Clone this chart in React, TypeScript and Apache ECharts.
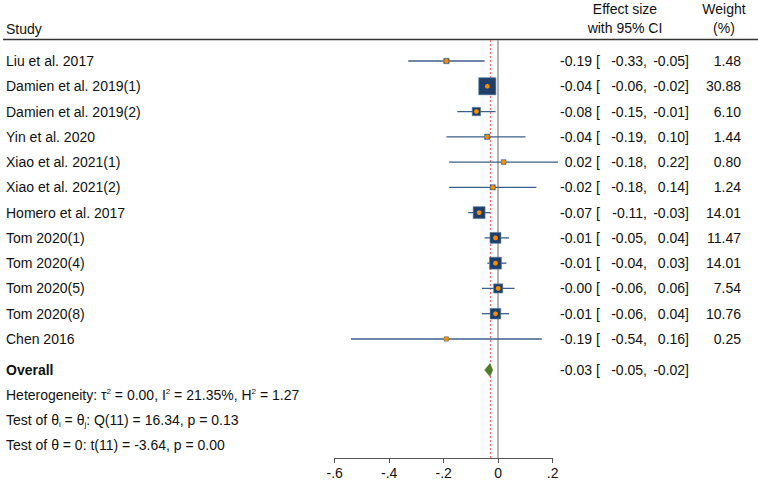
import React, { useEffect, useRef } from "react";
import * as echarts from "echarts";

const studies = [
  "Liu et al. 2017",
  "Damien et al. 2019(1)",
  "Damien et al. 2019(2)",
  "Yin et al. 2020",
  "Xiao et al. 2021(1)",
  "Xiao et al. 2021(2)",
  "Homero et al. 2017",
  "Tom 2020(1)",
  "Tom 2020(4)",
  "Tom 2020(5)",
  "Tom 2020(8)",
  "Chen 2016",
];
const estimates = [-0.19, -0.04, -0.08, -0.04, 0.02, -0.02, -0.07, -0.01, -0.01, -0.0, -0.01, -0.19];
const lowerCI = [-0.33, -0.06, -0.15, -0.19, -0.18, -0.18, -0.11, -0.05, -0.04, -0.06, -0.06, -0.54];
const upperCI = [-0.05, -0.02, -0.01, 0.1, 0.22, 0.14, -0.03, 0.04, 0.03, 0.06, 0.04, 0.16];
const weights = [1.48, 30.88, 6.1, 1.44, 0.8, 1.24, 14.01, 11.47, 14.01, 7.54, 10.76, 0.25];

const overallLabel = "Overall";
const overallEstimate = -0.03;
const overallLower = -0.05;
const overallUpper = -0.02;
const overallRow = 12.23;

const xTicks = [-0.6, -0.4, -0.2, 0, 0.2];
const xTickLabels = ["-.6", "-.4", "-.2", "0", ".2"];

const FONT = "'Liberation Sans', Arial, sans-serif";
const TXT = "#111";

const fmt = (v: number) =>
  (v < 0 || Object.is(v, -0) ? "-" : "") + Math.abs(v).toFixed(2);

function rowTexts(name: string, e: number, lo: number, hi: number, y: number, w: number | null, bold: boolean) {
  const base = { fontSize: 14, fontFamily: FONT, fill: TXT, verticalAlign: "middle" };
  const items: any[] = [
    { type: "text", style: { ...base, text: name, x: 6, y, align: "left", fontWeight: bold ? "bold" : "normal" } },
    { type: "text", style: { ...base, text: fmt(e), x: 592, y, align: "right" } },
    { type: "text", style: { ...base, text: "[", x: 596, y, align: "left" } },
    { type: "text", style: { ...base, text: fmt(lo) + ",", x: 647, y, align: "right" } },
    { type: "text", style: { ...base, text: fmt(hi) + "]", x: 689, y, align: "right" } },
  ];
  if (w !== null) {
    items.push({ type: "text", style: { ...base, text: w.toFixed(2), x: 741, y, align: "right" } });
  }
  return items;
}

export default function App() {
  const ref = useRef<HTMLDivElement>(null);
  useEffect(() => {
    if (!ref.current) return;
    const chart = echarts.init(ref.current, undefined, { renderer: "svg" });
    const studyData = studies.map((_, i) => [i, estimates[i], lowerCI[i], upperCI[i], weights[i]]);

    const footStyle = { fontSize: 14, fontFamily: FONT, fill: TXT, verticalAlign: "middle", lineHeight: 16 };
    const rich = {
      sup: { fontSize: 8, fontFamily: FONT, fill: TXT, verticalAlign: "top", lineHeight: 16 },
      sub: { fontSize: 8, fontFamily: FONT, fill: TXT, verticalAlign: "bottom", lineHeight: 14 },
    };

    chart.setOption({
      animation: false,
      grid: { left: 334.7, right: 205.3, top: 40, bottom: 26 },
      xAxis: {
        type: "value",
        min: -0.6,
        max: 0.2,
        interval: 0.2,
        splitLine: { show: false },
        axisLine: { onZero: false, lineStyle: { color: "#555", width: 1 } },
        axisTick: { length: 5, lineStyle: { color: "#555" } },
        axisLabel: {
          fontSize: 14,
          fontFamily: FONT,
          color: TXT,
          margin: 8,
          formatter: (v: number) => {
            let best = 0;
            xTicks.forEach((t, i) => {
              if (Math.abs(t - v) < Math.abs(xTicks[best] - v)) best = i;
            });
            return xTickLabels[best];
          },
        },
      },
      yAxis: { type: "value", min: -0.831, max: 15.71, inverse: true, show: false },
      graphic: [
        { type: "line", shape: { x1: 3, y1: 39.5, x2: 758, y2: 39.5 }, style: { stroke: "#333", lineWidth: 1.5 } },
        { type: "text", style: { text: "Study", x: 6, y: 29, fontSize: 14, fontFamily: FONT, fill: TXT, verticalAlign: "middle" } },
        { type: "text", style: { text: "Effect size", x: 625, y: 9, align: "center", fontSize: 14, fontFamily: FONT, fill: TXT, verticalAlign: "middle" } },
        { type: "text", style: { text: "with 95% CI", x: 625, y: 28, align: "center", fontSize: 14, fontFamily: FONT, fill: TXT, verticalAlign: "middle" } },
        { type: "text", style: { text: "Weight", x: 724, y: 9, align: "center", fontSize: 14, fontFamily: FONT, fill: TXT, verticalAlign: "middle" } },
        { type: "text", style: { text: "(%)", x: 724, y: 28, align: "center", fontSize: 14, fontFamily: FONT, fill: TXT, verticalAlign: "middle" } },
        {
          type: "text",
          style: { ...footStyle, x: 6, y: 395, rich, text: "Heterogeneity: τ{sup|2} = 0.00, I{sup|2} = 21.35%, H{sup|2} = 1.27" },
        },
        {
          type: "text",
          style: { ...footStyle, x: 6, y: 420, rich, text: "Test of θ{sub|i} = θ{sub|j}: Q(11) = 16.34, p = 0.13" },
        },
        {
          type: "text",
          style: { ...footStyle, x: 6, y: 445, text: "Test of θ = 0: t(11) = -3.64, p = 0.00" },
        },
      ],
      series: [
        {
          type: "line",
          data: [],
          z: 1,
          markLine: {
            silent: true,
            symbol: "none",
            label: { show: false },
            lineStyle: { color: "#9a9a9a", width: 1.5, type: "solid" },
            data: [{ xAxis: 0 }],
          },
        },
        {
          type: "line",
          data: [],
          z: 2,
          markLine: {
            silent: true,
            symbol: "none",
            label: { show: false },
            lineStyle: { color: "#ff6b6b", width: 1.2, type: [2, 2] },
            data: [{ xAxis: overallEstimate }],
          },
        },
        {
          type: "custom",
          z: 5,
          clip: false,
          data: studyData,
          renderItem: (params: any, api: any) => {
            const r = api.value(0);
            const e = api.value(1);
            const lo = api.value(2);
            const hi = api.value(3);
            const w = api.value(4);
            const [xe, y] = api.coord([e, r]);
            const xl = api.coord([lo, r])[0];
            const xh = api.coord([hi, r])[0];
            const side = Math.sqrt(9 * w + 16);
            return {
              type: "group",
              children: [
                { type: "line", shape: { x1: xl, y1: y, x2: xh, y2: y }, style: { stroke: "#3b5f8e", lineWidth: 1.3 } },
                { type: "rect", shape: { x: xe - side / 2, y: y - side / 2, width: side, height: side }, style: { fill: "#1d3f69", stroke: "#5d7ea6", lineWidth: 0.6 } },
                { type: "circle", shape: { cx: xe, cy: y, r: 2.4 }, style: { fill: "#f28c00" } },
                ...rowTexts(studies[params.dataIndex], e, lo, hi, y, w, false),
              ],
            };
          },
        },
        {
          type: "custom",
          z: 5,
          clip: false,
          data: [[overallRow, overallEstimate, overallLower, overallUpper]],
          renderItem: (params: any, api: any) => {
            const r = api.value(0);
            const e = api.value(1);
            const lo = api.value(2);
            const hi = api.value(3);
            const [xe, y] = api.coord([e, r]);
            const xl = api.coord([lo, r])[0];
            const xh = api.coord([hi, r])[0];
            return {
              type: "group",
              children: [
                {
                  type: "polygon",
                  shape: { points: [[xl, y], [xe, y - 6.5], [xh, y], [xe, y + 6.5]] },
                  style: { fill: "#4f7a28", stroke: "#4f7a28", lineWidth: 0.5 },
                },
                ...rowTexts(overallLabel, e, lo, hi, y, null, true),
              ],
            };
          },
        },
      ],
    });
    return () => chart.dispose();
  }, []);
  return <div ref={ref} style={{ position: "absolute", left: 0, top: 0, width: 758, height: 484 }} />;
}
